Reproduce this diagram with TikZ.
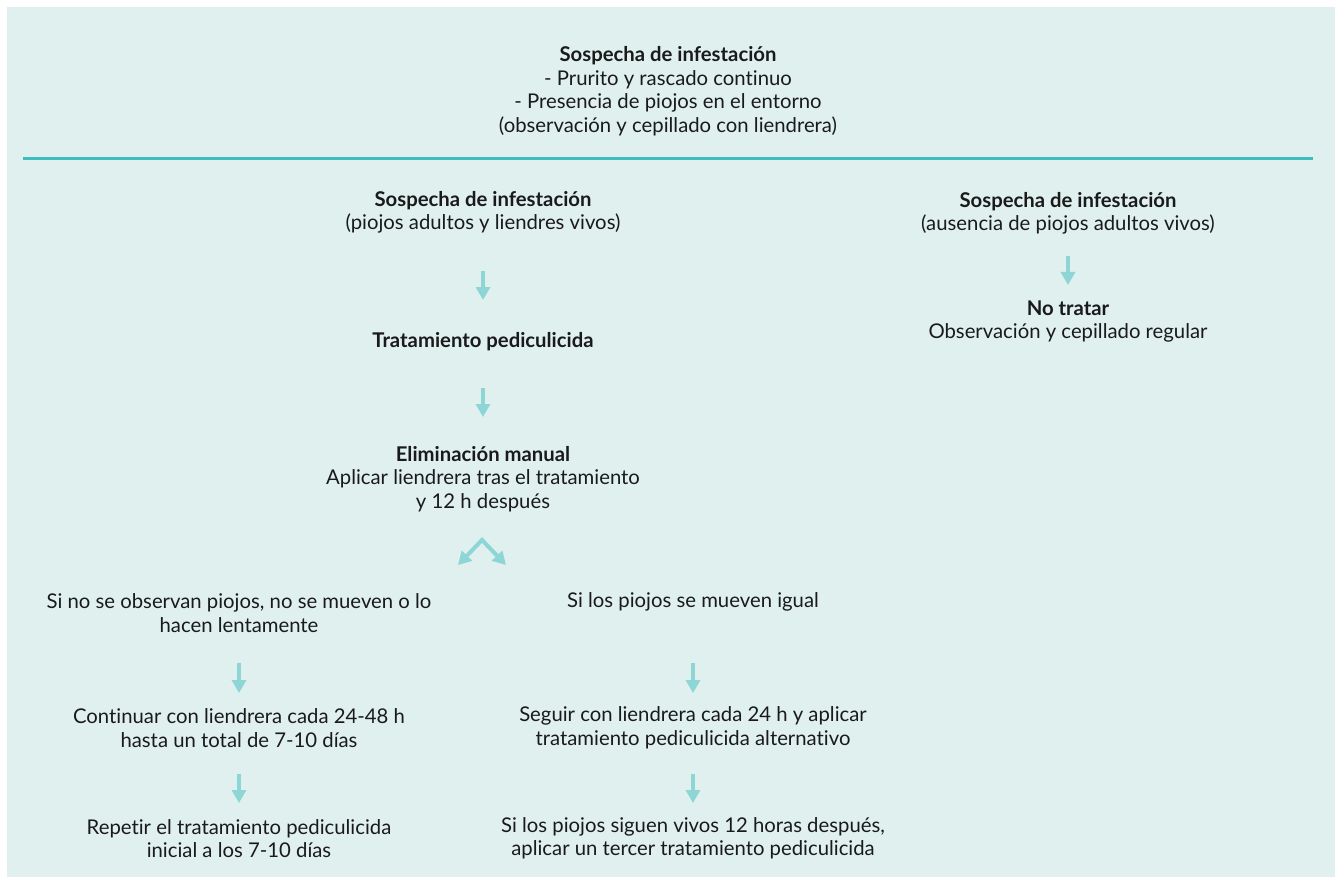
\documentclass[tikz,border=0pt]{standalone}
\usepackage{fontspec}
\setmainfont{Lato}[Ligatures=CommonOff]
\usetikzlibrary{arrows.meta}
\definecolor{bgc}{HTML}{DFF0EF}
\definecolor{rulec}{HTML}{3CBEC1}
\definecolor{arrc}{HTML}{8ED6D6}
\definecolor{txtc}{HTML}{1A1A1A}
\begin{document}
\begin{tikzpicture}[x=1pt,y=-1pt,
  txt/.style={align=center, inner sep=0pt, text=txtc, font=\fontsize{20.3}{23.5}\selectfont},
  arr/.style={draw=arrc, line width=4pt, -{Triangle[width=14pt,length=13pt]}},
  darr/.style={draw=arrc, line width=4pt, line join=miter, {Triangle[width=14pt,length=13pt]}-{Triangle[width=14pt,length=13pt]}}
]
\useasboundingbox (0,0) rectangle (1335,877);
\fill[bgc] (7,7) rectangle (1335,877);
\coordinate (rl) at (23,159);
\coordinate (rr) at (1313,159);
\draw[rulec, line width=3pt] (rl) -- (rr);

\node[txt] (top) at (668,91) {\textbf{Sospecha de infestación}\\- Prurito y rascado continuo\\- Presencia de piojos en el entorno\\(observación y cepillado con liendrera)};

\node[txt] (lh) at (483,212.5) {\textbf{Sospecha de infestación}\\(piojos adultos y liendres vivos)};
\node[txt] (trat) at (483,342) {\textbf{Tratamiento pediculicida}};
\node[txt] (elim) at (483,479) {\textbf{Eliminación manual}\\Aplicar liendrera tras el tratamiento\\y 12 h después};
\node[txt] (sino) at (239,613) {Si no se observan piojos, no se mueven o lo\\hacen lentamente};
\node[txt] (silos) at (693,602) {Si los piojos se mueven igual};
\node[txt] (cont) at (239,728) {Continuar con liendrera cada 24-48 h\\hasta un total de 7-10 días};
\node[txt] (seg) at (693,728) {Seguir con liendrera cada 24 h y aplicar\\tratamiento pediculicida alternativo};
\node[txt] (rep) at (239,838.5) {Repetir el tratamiento pediculicida\\inicial a los 7-10 días};
\node[txt] (sig) at (693,838.5) {Si los piojos siguen vivos 12 horas después,\\aplicar un tercer tratamiento pediculicida};
\node[txt] (rh) at (1068,213.5) {\textbf{Sospecha de infestación}\\(ausencia de piojos adultos vivos)};
\node[txt] (notr) at (1068,321.5) {\textbf{No tratar}\\Observación y cepillado regular};

\coordinate (a1s) at (483,271); \coordinate (a1e) at (483,300);
\coordinate (a2s) at (483,388); \coordinate (a2e) at (483,417);
\coordinate (dap) at (482,540); \coordinate (dl) at (458,565); \coordinate (dr) at (506,565);
\coordinate (a3s) at (239,663); \coordinate (a3e) at (239,693);
\coordinate (a4s) at (239,774); \coordinate (a4e) at (239,803);
\coordinate (a5s) at (693,663); \coordinate (a5e) at (693,693);
\coordinate (a6s) at (693,774); \coordinate (a6e) at (693,803);
\coordinate (a7s) at (1068,256); \coordinate (a7e) at (1068,285);

\draw[arr] (a1s) -- (a1e);
\draw[arr] (a2s) -- (a2e);
\draw[darr] (dl) -- (dap) -- (dr);
\draw[arr] (a3s) -- (a3e);
\draw[arr] (a4s) -- (a4e);
\draw[arr] (a5s) -- (a5e);
\draw[arr] (a6s) -- (a6e);
\draw[arr] (a7s) -- (a7e);
\end{tikzpicture}
\end{document}
